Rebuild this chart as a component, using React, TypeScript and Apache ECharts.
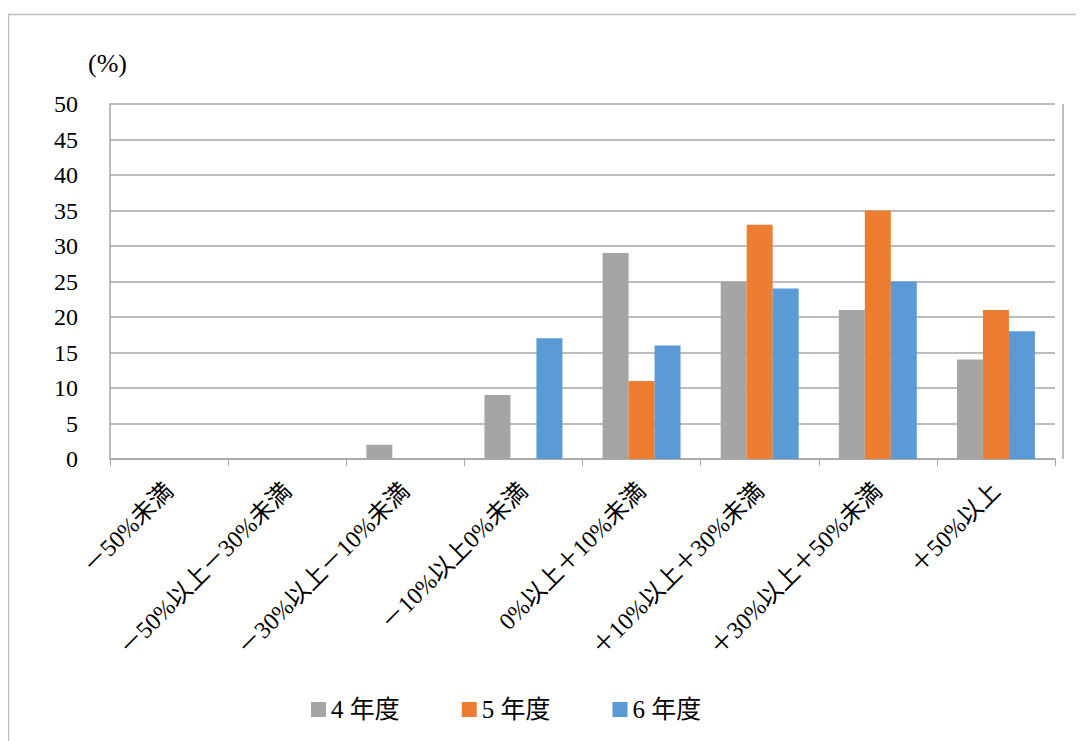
import React, { useEffect, useRef } from "react";
import * as echarts from "echarts";

const categories = [
  "－50%未満",
  "－50%以上－30%未満",
  "－30%以上－10%未満",
  "－10%以上0%未満",
  "0%以上＋10%未満",
  "＋10%以上＋30%未満",
  "＋30%以上＋50%未満",
  "＋50%以上",
];
const fy4 = [0, 0, 2, 9, 29, 25, 21, 14];
const fy5 = [0, 0, 0, 0, 11, 33, 35, 21];
const fy6 = [0, 0, 0, 17, 16, 24, 25, 18];

const FONT = "'Liberation Serif', 'DejaVu Serif', 'Noto Sans CJK JP', serif";

const App: React.FC = () => {
  const chartRef = useRef<HTMLDivElement | null>(null);
  useEffect(() => {
    if (!chartRef.current) return;
    const chart = echarts.init(chartRef.current, undefined, { renderer: "svg" });
    const bar = (name: string, data: number[], color: string) => ({
      name,
      type: "bar",
      data,
      barGap: "0%",
      barCategoryGap: "34%",
      itemStyle: { color },
    });
    chart.setOption({
      animation: false,
      textStyle: { fontFamily: FONT },
      graphic: [
        {
          type: "rect",
          shape: { x: 0.5, y: 6.5, width: 1069, height: 740 },
          style: { fill: "none", stroke: "#bfbfbf", lineWidth: 1.5 },
        },
        {
          type: "text",
          left: 80,
          top: 42,
          style: { text: "(%)", font: `26px ${FONT}`, fill: "#000" },
        },
      ],
      legend: {
        bottom: 14,
        left: 298,
        itemWidth: 15,
        itemHeight: 15,
        itemGap: 62,
        icon: "rect",
        textStyle: { fontSize: 25, color: "#000", fontFamily: FONT },
        data: ["4 年度", "5 年度", "6 年度"],
      },
      grid: { left: 102, top: 96, right: 29, bottom: 282, containLabel: false },
      xAxis: {
        type: "category",
        data: categories,
        axisLine: { lineStyle: { color: "#a6a6a6", width: 1.5 } },
        axisTick: { show: true, length: 7, lineStyle: { color: "#a6a6a6" } },
        axisLabel: {
          rotate: 45,
          interval: 0,
          fontSize: 24,
          color: "#000",
          margin: 28,
          fontFamily: FONT,
        },
      },
      yAxis: {
        type: "value",
        min: 0,
        max: 50,
        interval: 5,
        axisLine: { show: true, lineStyle: { color: "#a6a6a6", width: 1.5 } },
        axisTick: { show: false },
        axisLabel: { fontSize: 24, color: "#000", margin: 32, fontFamily: FONT },
        splitLine: { lineStyle: { color: "#a6a6a6", width: 1.5 } },
      },
      series: [
        bar("4 年度", fy4, "#a5a5a5"),
        bar("5 年度", fy5, "#ed7d31"),
        bar("6 年度", fy6, "#5b9bd5"),
        {
          type: "line",
          data: [],
          markLine: {
            symbol: "none",
            silent: true,
            label: { show: false },
            lineStyle: { color: "#a6a6a6", width: 1.5, type: "solid" },
            data: [[{ coord: [7, 0], x: 1055 }, { coord: [7, 50], x: 1055 }]],
          },
        },
      ],
    });
    return () => chart.dispose();
  }, []);
  return <div ref={chartRef} style={{ width: "1076px", height: "733px" }} />;
};

export default App;
